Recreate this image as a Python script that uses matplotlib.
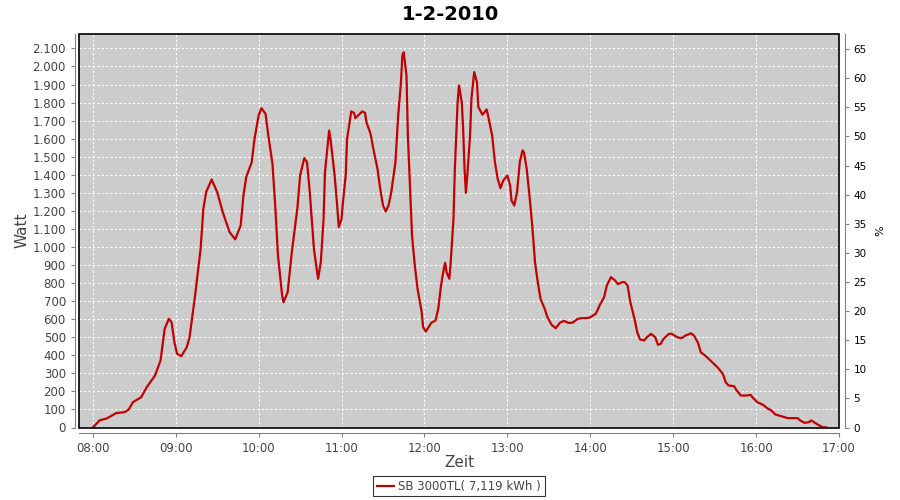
import numpy as np
import pandas as pd
import matplotlib
matplotlib.use('Agg')
import matplotlib.pyplot as plt
import matplotlib.dates as mdates
from matplotlib.ticker import FuncFormatter, MultipleLocator
from matplotlib.patches import Rectangle

# minutes after 08:00 and power in watt
minutes = [0, 5, 10, 17, 23, 26, 29, 35, 39, 45, 49, 52, 55, 57, 59, 61, 64, 68, 70, 74,
           78, 80, 82, 86, 90, 94, 99, 103, 107, 109, 111, 115, 117, 120, 122, 125, 127, 130, 132, 134,
           137, 138, 141, 144, 148, 150, 153, 155, 157, 160, 162, 163, 165, 167, 168, 171, 172, 175, 177, 178,
           180, 181, 183, 184, 186, 187, 189, 190, 192, 195, 197, 198, 201, 203, 206, 208, 210, 212, 214, 216,
           219, 221, 223, 224, 225, 227, 228, 230, 231, 233, 235, 238, 239, 241, 243, 245, 248, 250, 252, 254,
           255, 256, 258, 259, 261, 262, 264, 265, 267, 268, 269, 270, 271, 273, 274, 276, 278, 279, 282, 285,
           286, 289, 291, 293, 295, 297, 300, 302, 303, 305, 307, 309, 311, 312, 314, 316, 318, 320, 322, 324,
           327, 329, 332, 335, 338, 341, 344, 347, 351, 354, 358, 360, 364, 367, 370, 372, 375, 378, 380, 383,
           385, 387, 389, 392, 394, 396, 399, 401, 404, 407, 409, 411, 413, 417, 419, 423, 426, 429, 433, 435,
           438, 440, 444, 447, 452, 456, 458, 460, 464, 466, 469, 473, 476, 478, 481, 485, 488, 491, 494, 498,
           503, 510, 512, 515, 518, 520, 522, 525, 528, 531]
watt = [0, 40, 50, 80, 85, 100, 140, 168, 223, 288, 371, 547, 602, 583, 473, 408, 395, 445, 500, 731,
        990, 1212, 1304, 1374, 1304, 1193, 1082, 1042, 1119, 1285, 1387, 1470, 1599, 1729, 1769, 1738, 1618, 1461, 1230, 953,
        731, 694, 750, 971, 1212, 1396, 1492, 1470, 1304, 990, 879, 824, 916, 1156, 1414, 1645, 1599, 1396, 1213, 1110,
        1156, 1248, 1396, 1599, 1701, 1751, 1743, 1714, 1729, 1751, 1743, 1691, 1627, 1544, 1433, 1322, 1230, 1197, 1230, 1304,
        1470, 1729, 1913, 2061, 2079, 1950, 1618, 1248, 1064, 898, 768, 639, 556, 532, 556, 580, 593, 658, 787, 879,
        912, 860, 824, 916, 1156, 1433, 1802, 1895, 1802, 1655, 1433, 1300, 1396, 1618, 1821, 1969, 1913, 1775, 1733, 1762,
        1729, 1618, 1470, 1378, 1326, 1368, 1396, 1341, 1258, 1230, 1304, 1470, 1535, 1525, 1433, 1285, 1119, 916, 805, 713,
        658, 611, 569, 550, 580, 591, 580, 580, 602, 606, 606, 611, 630, 680, 722, 787, 833, 814, 794, 805,
        805, 787, 694, 602, 528, 488, 482, 500, 519, 500, 458, 464, 491, 519, 519, 500, 495, 510, 522, 510,
        469, 417, 393, 371, 334, 297, 251, 233, 229, 205, 177, 177, 181, 162, 140, 126, 107, 94, 72, 63,
        52, 52, 39, 26, 29, 39, 29, 15, 2, 0]

day = pd.Timestamp('2010-02-01 08:00')
times = day + pd.to_timedelta(minutes, unit='m')

title = '1-2-2010'
series_label = 'SB 3000TL( 7,119 kWh )'
line_color = '#c00000'
gray = '#808080'
text_col = '#444444'

fig = plt.figure(figsize=(9, 5), dpi=100)
ax = fig.add_axes([0.0878, 0.145, 0.8444, 0.787])
ax.set_facecolor('#cccccc')

ax.plot(times, watt, color=line_color, lw=1.6, label=series_label)

ax.set_xlim(pd.Timestamp('2010-02-01 07:50'), pd.Timestamp('2010-02-01 17:00'))
ax.set_ylim(0, 2180)
ax.xaxis.set_major_locator(mdates.HourLocator())
ax.xaxis.set_major_formatter(mdates.DateFormatter('%H:%M'))
ax.yaxis.set_major_locator(MultipleLocator(100))
ax.yaxis.set_major_formatter(FuncFormatter(lambda v, p: f'{int(v):,}'.replace(',', '.')))

ax.grid(True, color='white', lw=0.8, linestyle=(0, (2, 2)))
ax.set_axisbelow(True)

for s in ['top', 'right']:
    ax.spines[s].set_visible(False)
ax.spines['left'].set_position(('outward', 3))
ax.spines['bottom'].set_position(('outward', 4))
for s in ['left', 'bottom']:
    ax.spines[s].set_color(gray)
ax.tick_params(axis='both', colors=gray, labelcolor=text_col, labelsize=8.5, length=3, width=0.8)

# black border of the plot area
ax.add_patch(Rectangle((0, 0), 1, 1, transform=ax.transAxes, fill=False,
                       edgecolor='black', lw=1.2, clip_on=False, zorder=5))

ax.set_ylabel('Watt', fontsize=11, color=text_col, labelpad=2)
ax.set_xlabel('Zeit', fontsize=11, color=text_col, labelpad=0)

ax2 = ax.twinx()
ax2.set_ylim(0, 67.6)
ax2.yaxis.set_major_locator(MultipleLocator(5))
for s in ['top', 'left', 'bottom']:
    ax2.spines[s].set_visible(False)
ax2.spines['right'].set_position(('outward', 4))
ax2.spines['right'].set_color(gray)
ax2.tick_params(axis='y', colors=gray, labelcolor='black', labelsize=7.5, length=3, width=0.8)
ax2.set_ylabel('%', fontsize=8, color='black', labelpad=6)

fig.suptitle(title, fontsize=14, fontweight='bold', y=0.99)

leg = ax.legend(loc='upper center', bbox_to_anchor=(0.5, -0.124), fontsize=8.5,
                frameon=True, fancybox=False, handlelength=1.4, borderpad=0.3,
                handletextpad=0.4, borderaxespad=0)
leg.get_frame().set_edgecolor('black')
leg.get_frame().set_linewidth(0.8)
for t in leg.get_texts():
    t.set_color(text_col)

fig.savefig('out.png', dpi=100)
